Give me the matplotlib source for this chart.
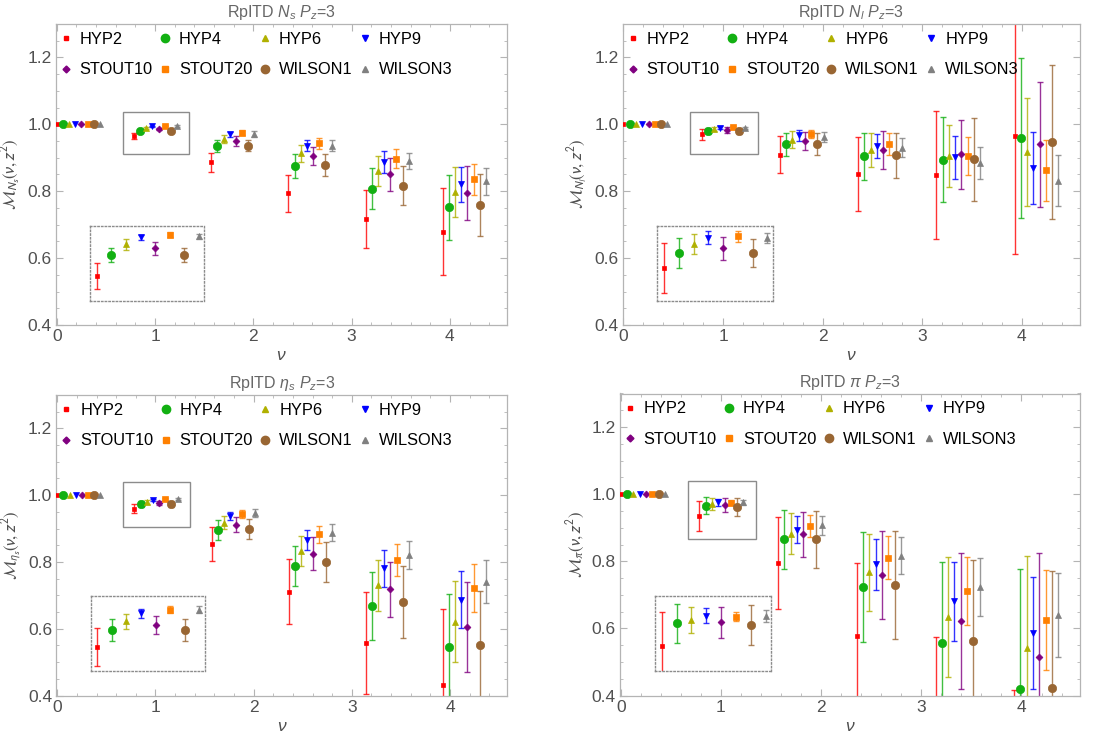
import numpy as np
import matplotlib
matplotlib.use("Agg")
import matplotlib.pyplot as plt
from matplotlib.lines import Line2D
from matplotlib.patches import Rectangle
from matplotlib.ticker import MultipleLocator, FormatStrFormatter

plt.rcParams['font.family'] = ['Liberation Sans', 'DejaVu Sans']
plt.rcParams['mathtext.fontset'] = 'custom'
plt.rcParams['mathtext.rm'] = 'Liberation Sans'
plt.rcParams['mathtext.it'] = 'Liberation Sans:italic'
plt.rcParams['mathtext.bf'] = 'Liberation Sans:bold'

# ---------------- data ----------------
nu_base = [0.0, 0.785, 1.571, 2.356, 3.142, 3.927]
series = ['HYP2', 'HYP4', 'HYP6', 'HYP9', 'STOUT10', 'STOUT20', 'WILSON1', 'WILSON3']

ns_vals = [
    [1.0, 0.966, 0.886, 0.794, 0.717, 0.679],
    [1.0, 0.981, 0.935, 0.876, 0.808, 0.752],
    [1.0, 0.989, 0.956, 0.913, 0.860, 0.798],
    [1.0, 0.994, 0.970, 0.936, 0.887, 0.821],
    [1.0, 0.986, 0.950, 0.905, 0.850, 0.794],
    [1.0, 0.996, 0.975, 0.943, 0.897, 0.836],
    [1.0, 0.981, 0.936, 0.878, 0.817, 0.758],
    [1.0, 0.995, 0.971, 0.936, 0.889, 0.830],
]
ns_errs = [
    [0, 0.0092, 0.029, 0.055, 0.087, 0.130],
    [0, 0.0050, 0.017, 0.035, 0.060, 0.097],
    [0, 0.0038, 0.012, 0.025, 0.045, 0.074],
    [0, 0.0021, 0.008, 0.017, 0.033, 0.052],
    [0, 0.0044, 0.014, 0.027, 0.050, 0.081],
    [0, 0.0020, 0.007, 0.016, 0.028, 0.046],
    [0, 0.0050, 0.016, 0.033, 0.058, 0.092],
    [0, 0.0018, 0.009, 0.017, 0.024, 0.040],
]

nl_vals = [
    [1.0, 0.970, 0.909, 0.851, 0.848, 0.966],
    [1.0, 0.980, 0.940, 0.904, 0.894, 0.958],
    [1.0, 0.986, 0.954, 0.924, 0.905, 0.918],
    [1.0, 0.990, 0.967, 0.934, 0.901, 0.869],
    [1.0, 0.983, 0.950, 0.923, 0.910, 0.940],
    [1.0, 0.991, 0.972, 0.941, 0.905, 0.862],
    [1.0, 0.980, 0.942, 0.907, 0.895, 0.947],
    [1.0, 0.990, 0.962, 0.930, 0.885, 0.831],
]
nl_errs = [
    [0, 0.0166, 0.056, 0.110, 0.191, 0.355],
    [0, 0.0097, 0.034, 0.071, 0.127, 0.239],
    [0, 0.0067, 0.025, 0.051, 0.092, 0.161],
    [0, 0.0044, 0.017, 0.036, 0.064, 0.107],
    [0, 0.0078, 0.026, 0.057, 0.104, 0.186],
    [0, 0.0036, 0.012, 0.032, 0.056, 0.091],
    [0, 0.0093, 0.033, 0.068, 0.125, 0.230],
    [0, 0.0033, 0.015, 0.028, 0.048, 0.076],
]

eta_vals = [
    [1.0, 0.960, 0.854, 0.711, 0.557, 0.430],
    [1.0, 0.973, 0.896, 0.789, 0.667, 0.544],
    [1.0, 0.980, 0.918, 0.832, 0.730, 0.621],
    [1.0, 0.986, 0.937, 0.867, 0.781, 0.687],
    [1.0, 0.977, 0.912, 0.825, 0.718, 0.605],
    [1.0, 0.989, 0.945, 0.883, 0.807, 0.722],
    [1.0, 0.973, 0.899, 0.799, 0.680, 0.551],
    [1.0, 0.989, 0.947, 0.888, 0.820, 0.741],
]
eta_errs = [
    [0, 0.0147, 0.050, 0.097, 0.152, 0.228],
    [0, 0.0086, 0.030, 0.060, 0.102, 0.160],
    [0, 0.0056, 0.020, 0.045, 0.076, 0.121],
    [0, 0.0036, 0.012, 0.030, 0.055, 0.085],
    [0, 0.0068, 0.023, 0.049, 0.083, 0.134],
    [0, 0.0028, 0.012, 0.026, 0.048, 0.071],
    [0, 0.0086, 0.029, 0.060, 0.109, 0.161],
    [0, 0.0030, 0.012, 0.025, 0.042, 0.064],
]

pi_vals = [
    [1.0, 0.935, 0.794, 0.578, 0.300, 0.100],
    [1.0, 0.966, 0.865, 0.723, 0.555, 0.418],
    [1.0, 0.970, 0.882, 0.767, 0.634, 0.542],
    [1.0, 0.976, 0.894, 0.791, 0.681, 0.587],
    [1.0, 0.967, 0.880, 0.760, 0.622, 0.515],
    [1.0, 0.975, 0.905, 0.810, 0.712, 0.624],
    [1.0, 0.963, 0.866, 0.729, 0.563, 0.422],
    [1.0, 0.9755, 0.907, 0.817, 0.724, 0.641],
]
pi_errs = [
    [0, 0.0456, 0.137, 0.218, 0.275, 0.315],
    [0, 0.0264, 0.088, 0.165, 0.243, 0.359],
    [0, 0.0178, 0.061, 0.115, 0.180, 0.275],
    [0, 0.0100, 0.040, 0.076, 0.118, 0.167],
    [0, 0.0210, 0.068, 0.131, 0.202, 0.309],
    [0, 0.0064, 0.033, 0.064, 0.101, 0.149],
    [0, 0.0270, 0.085, 0.160, 0.241, 0.349],
    [0, 0.0084, 0.028, 0.055, 0.087, 0.125],
]

# ---------------- style ----------------
colors = ['#FF0000', '#12B012', '#B0B000', '#0000FF', '#800080', '#FF8000', '#996633', '#808080']
markers = ['s', 'o', '^', 'v', 'D', 's', 'o', '^']
msizes = [3.5, 6.0, 4.4, 4.4, 3.5, 3.8, 6.0, 4.0]
dodge = 0.0628

panels = [
    dict(vals=ns_vals, errs=ns_errs, title=r'RpITD $N_s$ $P_z$=3',
         ylab=r'$\mathcal{M}_{N_s}(\nu,z^2)$', pos=[56, 24, 507.3, 325],
         iny=(0.948, 1.0025), boxb=0.912),
    dict(vals=nl_vals, errs=nl_errs, title=r'RpITD $N_l$ $P_z$=3',
         ylab=r'$\mathcal{M}_{N_l}(\nu,z^2)$', pos=[622.7, 24, 1080, 325],
         iny=(0.9484, 0.998), boxb=0.911),
    dict(vals=eta_vals, errs=eta_errs, title=r'RpITD $\eta_s$ $P_z$=3',
         ylab=r'$\mathcal{M}_{\eta_s}(\nu,z^2)$', pos=[56.5, 395, 507.3, 695.5],
         iny=(0.9413, 0.9992), boxb=0.904),
    dict(vals=pi_vals, errs=pi_errs, title=r'RpITD $\pi$ $P_z$=3',
         ylab=r'$\mathcal{M}_{\pi}(\nu,z^2)$', pos=[620, 393.5, 1080, 695.5],
         iny=(0.901, 1.003), boxb=0.865),
]

W, H = 1113, 742
fig = plt.figure(figsize=(W / 100, H / 100), dpi=100)

frame_col = '#b4b4b4'
lab_col = '#505050'


def draw_series(ax, vals, errs):
    for i, name in enumerate(series):
        x = np.array(nu_base) + i * dodge
        v = np.array(vals[i], dtype=float)
        e = np.array(errs[i], dtype=float)
        m = e > 0
        ax.errorbar(x[m], v[m], yerr=e[m], fmt='none', ecolor=colors[i],
                    elinewidth=1.0, capsize=2.4, capthick=1.0, alpha=0.8,
                    zorder=2 + i * 0.01)
        ax.plot(x, v, ls='none', marker=markers[i], ms=msizes[i],
                color=colors[i], mec=colors[i], mew=0.5, zorder=3 + i * 0.01)


for p in panels:
    l, t, r, b = p['pos']
    ax = fig.add_axes([l / W, 1 - b / H, (r - l) / W, (b - t) / H])
    draw_series(ax, p['vals'], p['errs'])
    ax.set_xlim(-0.008, 4.584)
    ax.set_ylim(0.4, 1.3)
    ax.xaxis.set_major_locator(MultipleLocator(1))
    ax.xaxis.set_minor_locator(MultipleLocator(0.2))
    ax.yaxis.set_major_locator(MultipleLocator(0.2))
    ax.yaxis.set_minor_locator(MultipleLocator(0.05))
    ax.xaxis.set_major_formatter(FormatStrFormatter('%d'))
    ax.yaxis.set_major_formatter(FormatStrFormatter('%.1f'))
    ax.tick_params(which='both', direction='in', top=True, right=True,
                   color=frame_col, labelcolor=lab_col, labelsize=12.5, pad=3)
    ax.tick_params(which='major', length=5, width=0.8)
    ax.tick_params(which='minor', length=2.5, width=0.6)
    for s in ax.spines.values():
        s.set_color(frame_col)
        s.set_linewidth(0.9)
    ax.set_title(p['title'], color='#666666', fontsize=11.5, pad=5)
    ax.set_xlabel(r'$\nu$', color=lab_col, fontsize=12.5, labelpad=3)
    ax.set_ylabel(p['ylab'], color=lab_col, fontsize=12, labelpad=3,
                  math_fontfamily='stixsans')

    # highlight box around the pi/4 group
    bb = p['boxb']
    ax.add_patch(Rectangle((0.67, bb), 0.68, 1.038 - bb, fill=False,
                           ec='#8c8c8c', lw=1.0, zorder=1))

    # inset with magnified pi/4 group
    axin = ax.inset_axes([0.34, 0.472, 1.16, 0.225], transform=ax.transData)
    draw_series(axin, p['vals'], p['errs'])
    axin.set_xlim(0.756, 1.248)
    axin.set_ylim(*p['iny'])
    axin.set_xticks([])
    axin.set_yticks([])
    for s in axin.spines.values():
        s.set_color('#8c8c8c')
        s.set_linestyle(':')
        s.set_linewidth(1.0)

    # legend (column-major order so rows read HYP2..HYP9 / STOUT10..WILSON3)
    handles = [Line2D([], [], ls='none', marker=markers[i], ms=msizes[i],
                      color=colors[i], mec=colors[i]) for i in range(8)]
    order = [0, 4, 1, 5, 2, 6, 3, 7]
    ax.legend([handles[k] for k in order], [series[k] for k in order],
              ncol=4, loc='upper left', bbox_to_anchor=(0, 0.985),
              borderaxespad=0, borderpad=0.2, frameon=False, fontsize=11.8,
              handlelength=0.8, handletextpad=0.45, columnspacing=0.35,
              labelspacing=0.95)

fig.savefig('out.png', dpi=100)
